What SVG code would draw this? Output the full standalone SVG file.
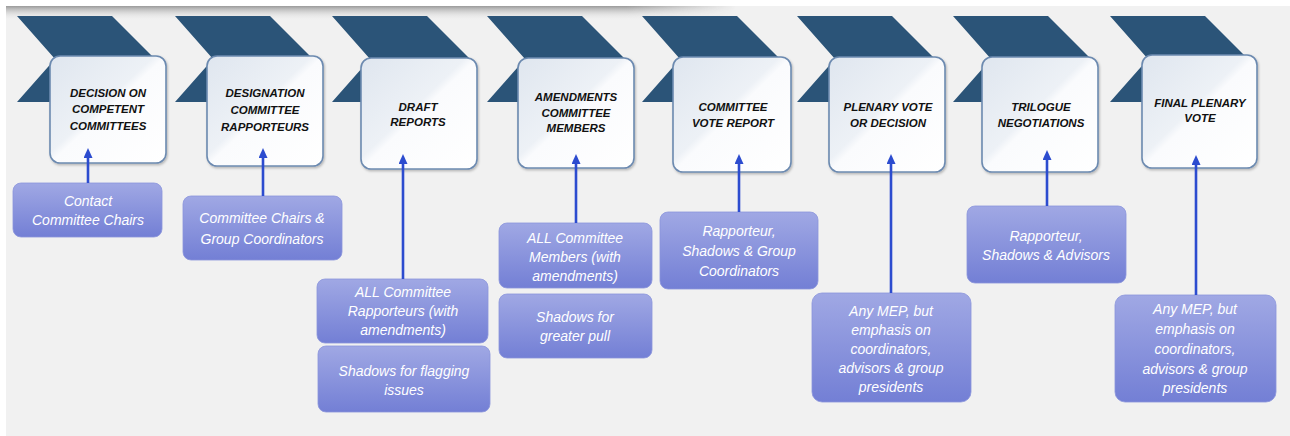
<svg xmlns="http://www.w3.org/2000/svg" width="1290" height="436" viewBox="0 0 1290 436">
<defs>
<linearGradient id="boxg" x1="0" y1="0" x2="1" y2="1">
<stop offset="0" stop-color="#dfe6ef"/>
<stop offset="0.45" stop-color="#edf1f6"/>
<stop offset="0.5" stop-color="#fafbfd"/>
<stop offset="1" stop-color="#ffffff"/>
</linearGradient>
<linearGradient id="actg" x1="0" y1="0" x2="0" y2="1">
<stop offset="0" stop-color="#a0a8e4"/>
<stop offset="1" stop-color="#737fd5"/>
</linearGradient>
<linearGradient id="shv" x1="0" y1="0" x2="0" y2="1">
<stop offset="0" stop-color="#9a9a9a"/>
<stop offset="1" stop-color="#f1f1f1" stop-opacity="0"/>
</linearGradient>
<linearGradient id="shh" x1="0" y1="0" x2="1" y2="0">
<stop offset="0" stop-color="#fff"/>
<stop offset="0.85" stop-color="#fff"/>
<stop offset="1" stop-color="#000"/>
</linearGradient>
<mask id="shm"><rect x="6" y="6" width="730" height="14" fill="url(#shh)"/></mask>
<marker id="ah" markerUnits="userSpaceOnUse" markerWidth="10" markerHeight="9" refX="2" refY="4.5" orient="auto">
<path d="M0,0 L10,4.5 L0,9 z" fill="#2c4ccf"/>
</marker>
<filter id="ds" x="-10%" y="-10%" width="120%" height="120%">
<feDropShadow dx="1" dy="1.5" stdDeviation="1.2" flood-color="#000" flood-opacity="0.25"/>
</filter>
</defs>
<style>
.chev{fill:#2b5478}
.box{fill:url(#boxg);stroke:#6c8ab0;stroke-width:1.6}
.ttl{font-family:"Liberation Sans",Arial,sans-serif;font-size:11.5px;font-weight:bold;font-style:italic;fill:#111;text-anchor:middle}
.act{fill:url(#actg);stroke:#8c95dc;stroke-width:0.8}
.atx{font-family:"Liberation Sans",Arial,sans-serif;font-size:14px;font-style:italic;fill:#ffffff;text-anchor:middle}
.con{stroke:#2c4ccf;stroke-width:2.6;fill:none;marker-end:url(#ah)}
</style>
<rect x="0" y="0" width="1290" height="436" fill="#ffffff"/>
<rect x="6" y="6" width="1284" height="430" fill="#f1f1f1"/>
<rect x="6" y="6" width="730" height="14" fill="url(#shv)" mask="url(#shm)"/>

<g id="step1">
<polygon class="chev" points="17,16 112,16 155,59 112,102 17,102 55,59"/>
<rect class="box" x="50" y="56" width="116" height="107" rx="10" filter="url(#ds)"/>
<text class="ttl"><tspan x="108" y="97">DECISION ON</tspan><tspan x="108" y="113">COMPETENT</tspan><tspan x="108" y="130">COMMITTEES</tspan></text>
</g>
<g id="step2">
<polygon class="chev" points="175,16 270,16 313,59 270,102 175,102 213,59"/>
<rect class="box" x="207" y="56" width="116" height="110" rx="10" filter="url(#ds)"/>
<text class="ttl"><tspan x="265" y="97">DESIGNATION</tspan><tspan x="265" y="114">COMMITTEE</tspan><tspan x="265" y="131">RAPPORTEURS</tspan></text>
</g>
<g id="step3">
<polygon class="chev" points="332,16 427,16 470,59 427,102 332,102 370,59"/>
<rect class="box" x="361" y="58" width="116" height="111" rx="10" filter="url(#ds)"/>
<text class="ttl"><tspan x="418" y="111">DRAFT</tspan><tspan x="418" y="126">REPORTS</tspan></text>
</g>
<g id="step4">
<polygon class="chev" points="487,16 582,16 625,59 582,102 487,102 525,59"/>
<rect class="box" x="518" y="58" width="116" height="110" rx="10" filter="url(#ds)"/>
<text class="ttl"><tspan x="576" y="101">AMENDMENTS</tspan><tspan x="576" y="117">COMMITTEE</tspan><tspan x="576" y="132">MEMBERS</tspan></text>
</g>
<g id="step5">
<polygon class="chev" points="642,16 737,16 780,59 737,102 642,102 680,59"/>
<rect class="box" x="673" y="57" width="118" height="115" rx="10" filter="url(#ds)"/>
<text class="ttl"><tspan x="733" y="111">COMMITTEE</tspan><tspan x="733" y="127">VOTE REPORT</tspan></text>
</g>
<g id="step6">
<polygon class="chev" points="797,16 892,16 935,59 892,102 797,102 835,59"/>
<rect class="box" x="829" y="57" width="116" height="115" rx="10" filter="url(#ds)"/>
<text class="ttl"><tspan x="888" y="111">PLENARY VOTE</tspan><tspan x="888" y="127">OR DECISION</tspan></text>
</g>
<g id="step7">
<polygon class="chev" points="953,16 1048,16 1091,59 1048,102 953,102 991,59"/>
<rect class="box" x="982" y="57" width="116" height="115" rx="10" filter="url(#ds)"/>
<text class="ttl"><tspan x="1041" y="111">TRILOGUE</tspan><tspan x="1041" y="127">NEGOTIATIONS</tspan></text>
</g>
<g id="step8">
<polygon class="chev" points="1110,16 1205,16 1248,59 1205,102 1110,102 1148,59"/>
<rect class="box" x="1142" y="55" width="115" height="113" rx="10" filter="url(#ds)"/>
<text class="ttl"><tspan x="1200" y="107">FINAL PLENARY</tspan><tspan x="1200" y="122">VOTE</tspan></text>
</g>

<g id="actor1">
<rect class="act" x="13" y="183" width="149" height="54" rx="8"/>
<text class="atx"><tspan x="88" y="206">Contact</tspan><tspan x="88" y="225">Committee Chairs</tspan></text>
</g>
<g id="actor2">
<rect class="act" x="183" y="196" width="159" height="64" rx="8"/>
<text class="atx"><tspan x="262" y="223">Committee Chairs &amp;</tspan><tspan x="262" y="244">Group Coordinators</tspan></text>
</g>
<g id="actor3a">
<rect class="act" x="317" y="279" width="171" height="64" rx="8"/>
<text class="atx"><tspan x="403" y="297">ALL Committee</tspan><tspan x="403" y="316">Rapporteurs (with</tspan><tspan x="403" y="335">amendments)</tspan></text>
</g>
<g id="actor3b">
<rect class="act" x="318" y="346" width="172" height="66" rx="8"/>
<text class="atx"><tspan x="404" y="376">Shadows for flagging</tspan><tspan x="404" y="395">issues</tspan></text>
</g>
<g id="actor4a">
<rect class="act" x="499" y="223" width="153" height="65" rx="8"/>
<text class="atx"><tspan x="575" y="243">ALL Committee</tspan><tspan x="575" y="262">Members (with</tspan><tspan x="575" y="281">amendments)</tspan></text>
</g>
<g id="actor4b">
<rect class="act" x="499" y="294" width="153" height="64" rx="8"/>
<text class="atx"><tspan x="575" y="322">Shadows for</tspan><tspan x="575" y="341">greater pull</tspan></text>
</g>
<g id="actor5">
<rect class="act" x="660" y="212" width="158" height="77" rx="8"/>
<text class="atx"><tspan x="739" y="236">Rapporteur,</tspan><tspan x="739" y="256">Shadows &amp; Group</tspan><tspan x="739" y="276">Coordinators</tspan></text>
</g>
<g id="actor6">
<rect class="act" x="812" y="293" width="159" height="109" rx="10"/>
<text class="atx"><tspan x="891" y="316">Any MEP, but</tspan><tspan x="891" y="335">emphasis on</tspan><tspan x="891" y="354">coordinators,</tspan><tspan x="891" y="373">advisors &amp; group</tspan><tspan x="891" y="392">presidents</tspan></text>
</g>
<g id="actor7">
<rect class="act" x="967" y="206" width="159" height="77" rx="8"/>
<text class="atx"><tspan x="1046" y="241">Rapporteur,</tspan><tspan x="1046" y="260">Shadows &amp; Advisors</tspan></text>
</g>
<g id="actor8">
<rect class="act" x="1115" y="295" width="161" height="107" rx="10"/>
<text class="atx"><tspan x="1195" y="314">Any MEP, but</tspan><tspan x="1195" y="334">emphasis on</tspan><tspan x="1195" y="354">coordinators,</tspan><tspan x="1195" y="374">advisors &amp; group</tspan><tspan x="1195" y="393">presidents</tspan></text>
</g>

<g id="connectors">
<line class="con" x1="88" y1="183" x2="88" y2="156"/>
<line class="con" x1="263" y1="196" x2="263" y2="156"/>
<line class="con" x1="403" y1="279" x2="403" y2="162"/>
<line class="con" x1="576" y1="223" x2="576" y2="162"/>
<line class="con" x1="739" y1="212" x2="739" y2="162"/>
<line class="con" x1="891" y1="293" x2="891" y2="162"/>
<line class="con" x1="1047" y1="206" x2="1047" y2="158"/>
<line class="con" x1="1196" y1="295" x2="1196" y2="163"/>
</g>
</svg>
